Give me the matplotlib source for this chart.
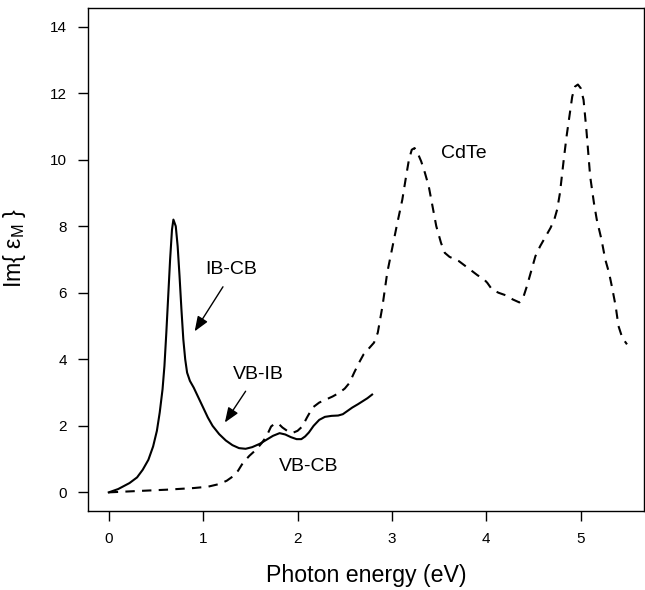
import matplotlib.pyplot as plt

plt.rcParams['font.family'] = ['Liberation Sans', 'DejaVu Sans']
plt.rcParams['mathtext.fontset'] = 'custom'
plt.rcParams['mathtext.rm'] = 'Liberation Sans'

# Solid curve: intermediate band material
ib_x = [0.0, 0.1, 0.22, 0.3, 0.36, 0.42, 0.47, 0.51, 0.54, 0.57, 0.59, 0.61,
        0.63, 0.65, 0.67, 0.685, 0.71, 0.73, 0.75, 0.77, 0.79, 0.81, 0.83, 0.86,
        0.9, 0.95, 1.0, 1.05, 1.10, 1.17, 1.24, 1.31, 1.38, 1.45, 1.52, 1.6,
        1.67, 1.74, 1.81, 1.87, 1.93, 1.99, 2.04, 2.08, 2.12, 2.17, 2.23, 2.29,
        2.36, 2.43, 2.48, 2.53, 2.58, 2.64, 2.69, 2.74, 2.79]
ib_y = [0.0, 0.1, 0.28, 0.45, 0.68, 0.98, 1.38, 1.85, 2.4, 3.1, 3.8, 4.8,
        5.9, 7.0, 7.9, 8.2, 8.0, 7.4, 6.5, 5.5, 4.6, 4.0, 3.6, 3.35,
        3.15, 2.85, 2.55, 2.25, 2.0, 1.75, 1.56, 1.42, 1.33, 1.31, 1.36, 1.46,
        1.58, 1.7, 1.78, 1.74, 1.66, 1.6, 1.6, 1.68, 1.8, 2.0, 2.18, 2.27,
        2.3, 2.31, 2.35, 2.45, 2.55, 2.65, 2.74, 2.83, 2.94]

# Dashed curve: CdTe
cdte_x = [0.0, 0.3, 0.61, 0.9, 1.05, 1.17, 1.25, 1.31, 1.37, 1.42, 1.49, 1.56,
          1.62, 1.67, 1.72, 1.76, 1.80, 1.84, 1.90, 1.95, 2.0, 2.05, 2.10, 2.16,
          2.23, 2.30, 2.37, 2.44, 2.50, 2.55, 2.60, 2.65, 2.70, 2.76, 2.81, 2.85,
          2.90, 2.95, 3.0, 3.05, 3.11, 3.15, 3.18, 3.21, 3.24, 3.28, 3.31, 3.35,
          3.39, 3.43, 3.47, 3.52, 3.56, 3.61, 3.71, 3.78, 3.85, 3.91, 3.96, 4.01,
          4.06, 4.13, 4.21, 4.28, 4.35, 4.39, 4.43, 4.48, 4.52, 4.57, 4.63, 4.68,
          4.72, 4.75, 4.78, 4.82, 4.85, 4.88, 4.91, 4.94, 4.97, 5.0, 5.03, 5.06,
          5.10, 5.14, 5.17, 5.22, 5.26, 5.30, 5.33, 5.37, 5.40, 5.44, 5.49]
cdte_y = [0.0, 0.04, 0.08, 0.13, 0.17, 0.25, 0.35, 0.47, 0.65, 0.88, 1.1, 1.28,
          1.48, 1.68, 1.98, 2.07, 2.06, 1.95, 1.83, 1.79, 1.85, 1.98, 2.25, 2.55,
          2.7, 2.79, 2.88, 2.99, 3.12, 3.29, 3.6, 3.89, 4.15, 4.34, 4.5, 4.8,
          5.6, 6.6, 7.3, 8.0, 8.8, 9.5, 10.0, 10.3, 10.35, 10.15, 9.95, 9.6,
          9.2, 8.6, 8.0, 7.5, 7.2, 7.08, 6.95, 6.8, 6.65, 6.52, 6.45, 6.3,
          6.1, 6.0, 5.92, 5.8, 5.71, 5.85, 6.2, 6.7, 7.1, 7.4, 7.7, 7.95,
          8.2, 8.5, 9.0, 10.0, 10.7, 11.3, 11.9, 12.2, 12.26, 12.15, 11.8, 10.9,
          9.5, 8.7, 8.2, 7.6, 7.0, 6.6, 6.19, 5.6, 5.0, 4.65, 4.45]

labels = ['IB-CB', 'VB-IB', 'VB-CB', 'CdTe']
label_x = [1.30, 1.59, 2.12, 3.76]
label_y = [6.70, 3.54, 0.78, 10.18]

arrow_from = [(1.21, 6.18), (1.45, 3.04)]
arrow_to = [(0.91, 4.84), (1.23, 2.1)]

fig = plt.figure(figsize=(6.45, 5.9), dpi=100)
ax = fig.add_axes([0.1364, 0.1339, 0.862, 0.8525])

ax.plot(ib_x, ib_y, color='black', lw=1.5)
ax.plot(cdte_x, cdte_y, color='black', lw=1.5, dashes=(4.5, 3.5))

for t, x, y in zip(labels, label_x, label_y):
    ax.text(x, y, t, fontsize=14, ha='center', va='center')

for (x0, y0), (x1, y1) in zip(arrow_from, arrow_to):
    ax.annotate('', xy=(x1, y1), xytext=(x0, y0),
                arrowprops=dict(arrowstyle='-|>,head_length=0.9,head_width=0.35',
                                color='black', lw=1.0, shrinkA=0, shrinkB=0))

ax.set_xlim(-0.22, 5.67)
ax.set_ylim(-0.56, 14.56)
ax.set_xticks(range(0, 6))
ax.set_yticks(range(0, 15, 2))
ax.tick_params(direction='out', length=7, width=1, labelsize=11, pad=8)
for s in ax.spines.values():
    s.set_linewidth(1.0)

ax.set_xlabel('Photon energy (eV)', fontsize=16.7, labelpad=13)
ax.set_ylabel('Im{ ε$_{\\mathrm{M}}$ }', fontsize=16.7)
ax.yaxis.set_label_coords(-0.108, 0.523)

fig.savefig('out.png', dpi=100)
